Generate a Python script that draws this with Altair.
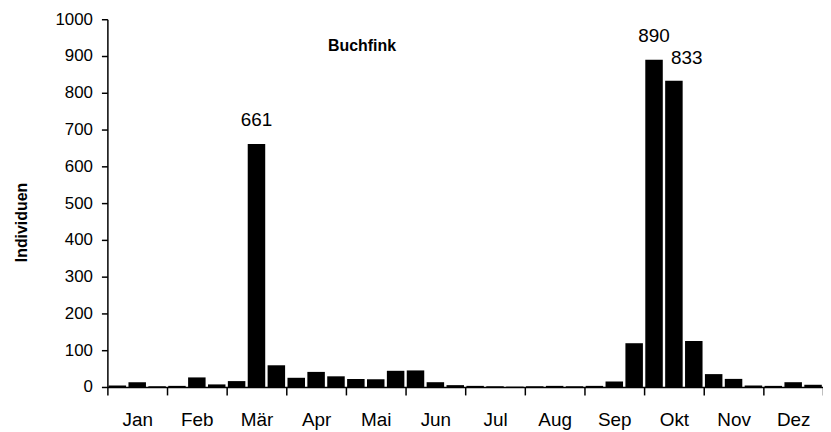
import altair as alt
import pandas as pd

months = ["Jan", "Feb", "Mär", "Apr", "Mai", "Jun", "Jul", "Aug", "Sep", "Okt", "Nov", "Dez"]
# three decades (Dekaden) per month
values = [4, 13, 2,  3, 26, 7,  16, 661, 59,  25, 41, 29,  22, 21, 44,  45, 13, 5,
          3, 2, 1,  2, 3, 2,  3, 15, 119,  890, 833, 125,  35, 22, 4,  3, 13, 6]
label_idx = [7, 27, 28]
label_dx = [0, 0, 13]

df = pd.DataFrame({"idx": list(range(len(values))), "value": values})
lab = pd.DataFrame({"idx": label_idx, "value": [values[i] for i in label_idx], "dx": label_dx})

month_js = "[" + ",".join("'" + m + "'" for m in months) + "]"
tick_vals = [i * 1.5 for i in range(25)]

FONT = "Liberation Sans"

x_axis = alt.Axis(
    values=tick_vals,
    labelExpr=f"datum.value % 3 == 0 ? '' : {month_js}[floor(datum.value / 3)]",
    tickSize=8,
    tickOpacity={"condition": {"test": "datum.value % 3 == 0", "value": 1}, "value": 0},
    grid=False, title=None, labelFontSize=19, labelFont=FONT, labelColor="black",
    domainColor="black", tickColor="black", domainWidth=1.5, tickWidth=1.5,
    labelPadding=16, labelOverlap=False, labelFlush=False,
)
x_scale = alt.Scale(domain=[0, 36], nice=False, zero=False)

y_axis = alt.Axis(
    values=list(range(0, 1001, 100)), grid=False, title="Individuen", format="d",
    titleFont=FONT, titleFontSize=16, titleFontWeight="bold", titleColor="black",
    titleX=-86, titleY=204, titleBaseline="middle",
    labelFont=FONT, labelFontSize=17, labelColor="black", labelPadding=9,
    labelOverlap=False,
    tickSize=6, tickColor="black", domainColor="black", domainWidth=1.5, tickWidth=1.5,
)
y_scale = alt.Scale(domain=[0, 1000], nice=False)

bars = alt.Chart(df).transform_calculate(
    x0="datum.idx + 0.06", x1="datum.idx + 0.94"
).mark_bar(color="black").encode(
    x=alt.X("x0:Q", axis=x_axis, scale=x_scale),
    x2="x1:Q",
    y=alt.Y("value:Q", axis=y_axis, scale=y_scale),
    y2=alt.datum(0),
)

labels_a = alt.Chart(lab[lab.dx == 0]).transform_calculate(x0="datum.idx + 0.5").mark_text(
    font=FONT, fontSize=19, color="black", baseline="bottom", dy=-14
).encode(x=alt.X("x0:Q", scale=x_scale, axis=x_axis),
         y=alt.Y("value:Q", scale=y_scale, axis=y_axis), text="value:Q")

labels_b = alt.Chart(lab[lab.dx != 0]).transform_calculate(x0="datum.idx + 0.5").mark_text(
    font=FONT, fontSize=19, color="black", baseline="bottom", dy=-13, dx=13
).encode(x=alt.X("x0:Q", scale=x_scale, axis=x_axis),
         y=alt.Y("value:Q", scale=y_scale, axis=y_axis), text="value:Q")

chart = alt.layer(bars, labels_a, labels_b).properties(
    width=720, height=370,
    title=alt.TitleParams("Buchfink", anchor="start", align="left", dx=316, dy=52,
                          offset=0, font=FONT, fontSize=16, fontWeight="bold", color="black",
                          baseline="middle"),
    autosize=alt.AutoSizeParams(type="none"),
    padding={"left": 100, "top": 10, "right": 0, "bottom": 45},
).configure_view(stroke=None).configure_axis(labelOverlap=False)

chart.save("out.html", embed_options={"renderer": "svg", "actions": False})
